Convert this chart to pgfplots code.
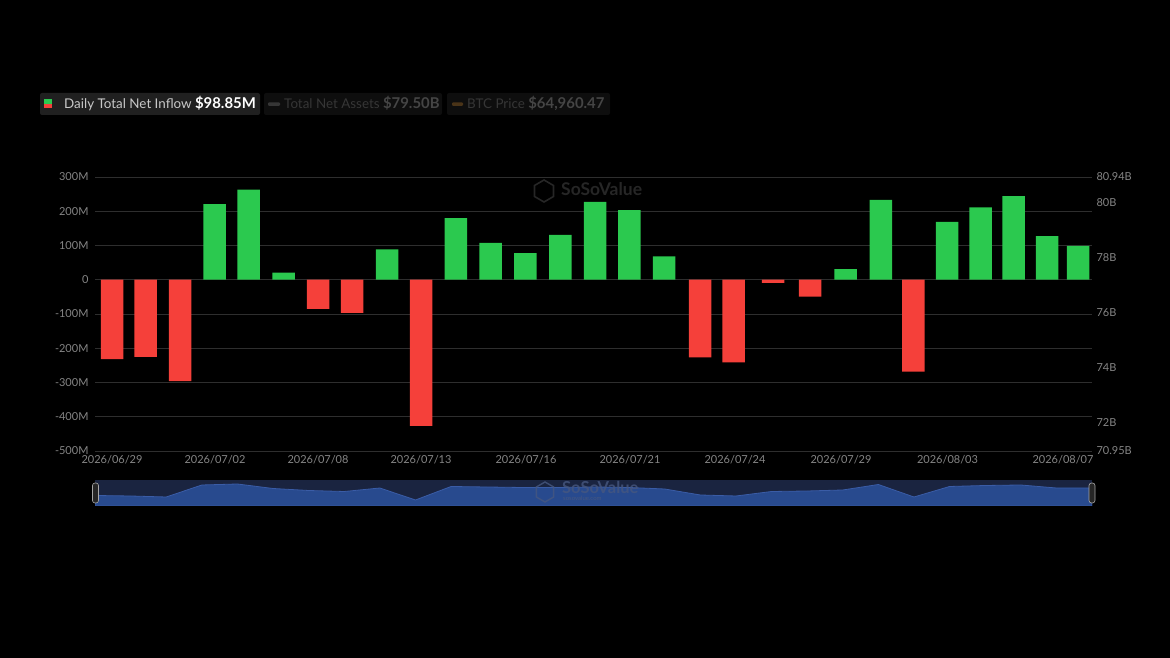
\documentclass[border=0pt]{standalone}
\usepackage{fontspec}
\setmainfont{Lato}
\usepackage{pgfplots}
\pgfplotsset{compat=1.18}
\definecolor{upc}{HTML}{2BC94F}
\definecolor{downc}{HTML}{F5403A}
\definecolor{gridc}{HTML}{2E2E2E}
\definecolor{tickc}{HTML}{858585}
\definecolor{legbgA}{HTML}{202020}
\definecolor{legbgB}{HTML}{0E0E0E}
\definecolor{legtxt}{HTML}{C8C8C8}
\definecolor{legdim}{HTML}{363636}
\definecolor{legdimv}{HTML}{454545}
\definecolor{btcdim}{HTML}{4A3418}
\definecolor{wm}{HTML}{262626}
\definecolor{slbg}{HTML}{1A2440}
\definecolor{slfill}{HTML}{284A8E}
\definecolor{slline}{HTML}{3A5CA6}
\definecolor{slwm}{HTML}{46577F}
\begin{document}
\begin{tikzpicture}[x=1pt,y=1pt]
\fill[black] (0,0) rectangle (1170,658);
% legend
\fill[legbgA, rounded corners=2pt] (40,543) rectangle (260,565);
\fill[upc] (44,554) rectangle (52,558.5);
\fill[downc] (44,549.5) rectangle (52,554);
\node[anchor=base west, inner sep=0, text=legtxt, font=\fontsize{13.4}{15}\selectfont] at (64,549.5) {Daily Total Net Inflow \fontsize{14.9}{16}\selectfont\bfseries\color{white}\$98.85M};
\fill[legbgB, rounded corners=2pt] (264,543) rectangle (442,565);
\fill[legdim, rounded corners=1pt] (268,552) rectangle (280,555.5);
\node[anchor=base west, inner sep=0, text=legdim, font=\fontsize{13.4}{15}\selectfont] at (284,549.5) {Total Net Assets \fontsize{14.9}{16}\selectfont\bfseries\color{legdimv}\$79.50B};
\fill[legbgB, rounded corners=2pt] (447,543) rectangle (610,565);
\fill[btcdim, rounded corners=1pt] (452,552) rectangle (463,555.5);
\node[anchor=base west, inner sep=0, text=legdim, font=\fontsize{13.4}{15}\selectfont] at (467,549.5) {BTC Price \fontsize{14.9}{16}\selectfont\bfseries\color{legdimv}\$64,960.47};
% watermark
\draw[wm, line width=1.6pt] (544,467) +(90:11) -- +(150:11) -- +(210:11) -- +(270:11) -- +(330:11) -- +(30:11) -- cycle;
\node[anchor=west, inner sep=0, text=wm, font=\fontsize{17.5}{19}\selectfont\bfseries] at (561,469) {SoSoValue};
% main axis
\begin{axis}[
  at={(95pt,207pt)}, anchor=south west, scale only axis,
  width=997pt, height=274pt,
  xmin=95, xmax=1092, ymin=-500, ymax=300,
  axis line style={draw=none}, tick style={draw=none},
  ytick={-500,-400,-300,-200,-100,0,100,200,300},
  yticklabels={-500M,-400M,-300M,-200M,-100M,0,100M,200M,300M},
  ymajorgrids, grid style={gridc, line width=0.8pt},
  xtick={112,215,318,421,526,630,735,841,947.5,1063},
  xticklabels={2026/06/29,2026/07/02,2026/07/08,2026/07/13,2026/07/16,2026/07/21,2026/07/24,2026/07/29,2026/08/03,2026/08/07},
  ticklabel style={font=\fontsize{11}{13}\selectfont, text=tickc},
  yticklabel style={xshift=-3pt},
  xticklabel style={yshift=-1pt},
]
\addplot[ybar, bar width=22.5pt, bar shift=0pt, fill=upc, draw=none] coordinates {
(214.5,221) (248.7,263) (283.7,21) (387,89) (455.8,180) (490.6,108) (525.3,78) (560.3,131) (595.2,227) (629.3,203) (664.2,68) (845.6,31) (880.8,233) (947,169) (980.5,211) (1013.5,244) (1047,127) (1078,98.85)
};
\addplot[ybar, bar width=22.5pt, bar shift=0pt, fill=downc, draw=none] coordinates {
(112,-232) (145.5,-225) (180,-296) (318,-85) (352,-97) (421,-427) (700,-227) (733.5,-241) (773,-9) (810,-49) (913.3,-268)
};
\end{axis}
% right axis
\begin{axis}[
  at={(95pt,207pt)}, anchor=south west, scale only axis,
  width=997pt, height=274pt,
  xmin=0, xmax=1, ymin=70.95, ymax=80.94,
  axis x line=none, axis y line*=right,
  axis line style={draw=none}, tick style={draw=none},
  ytick={70.95,72,74,76,78,80,80.94},
  yticklabels={70.95B,72B,74B,76B,78B,80B,80.94B},
  ticklabel style={font=\fontsize{11}{13}\selectfont, text=tickc},
  yticklabel style={xshift=1pt},
]
\end{axis}
% slider
\fill[slbg] (95,152) rectangle (1092,178);
\begin{axis}[
  at={(95pt,152pt)}, anchor=south west, scale only axis,
  width=997pt, height=26pt,
  xmin=1, xmax=29, ymin=0, ymax=26, hide axis,
]
\addplot[fill=slfill, draw=slline, line width=0.8pt] coordinates {
(1,10.5) (2,10) (3,9) (4,21) (5,22) (6,17.5) (7,15.5) (8,14.5) (9,18) (10,6) (11,19.5) (12,19) (13,18.5) (14,18.5) (15,19) (16,18.5) (17,17) (18,11) (19,10) (20,14.5) (21,15) (22,16) (23,21.5) (24,9) (25,19.5) (26,20.5) (27,21) (28,18) (29,18)
} \closedcycle;
\end{axis}
\draw[slwm, line width=1.4pt, opacity=0.8] (545,166) +(90:10) -- +(150:10) -- +(210:10) -- +(270:10) -- +(330:10) -- +(30:10) -- cycle;
\node[anchor=west, inner sep=0, text=slwm, text opacity=0.8, font=\fontsize{16.5}{18}\selectfont\bfseries] at (562,171) {SoSoValue};
\node[anchor=west, inner sep=0, text=slwm, font=\fontsize{6}{7}\selectfont] at (563,160) {sosovalue.com};
\fill[black!70!gray, draw=gray!70, rounded corners=2.5pt, line width=0.6pt] (92.5,155) rectangle (98.5,175);
\fill[black!70!gray, draw=gray!70, rounded corners=2.5pt, line width=0.6pt] (1089,155) rectangle (1095,175);
\end{tikzpicture}
\end{document}
